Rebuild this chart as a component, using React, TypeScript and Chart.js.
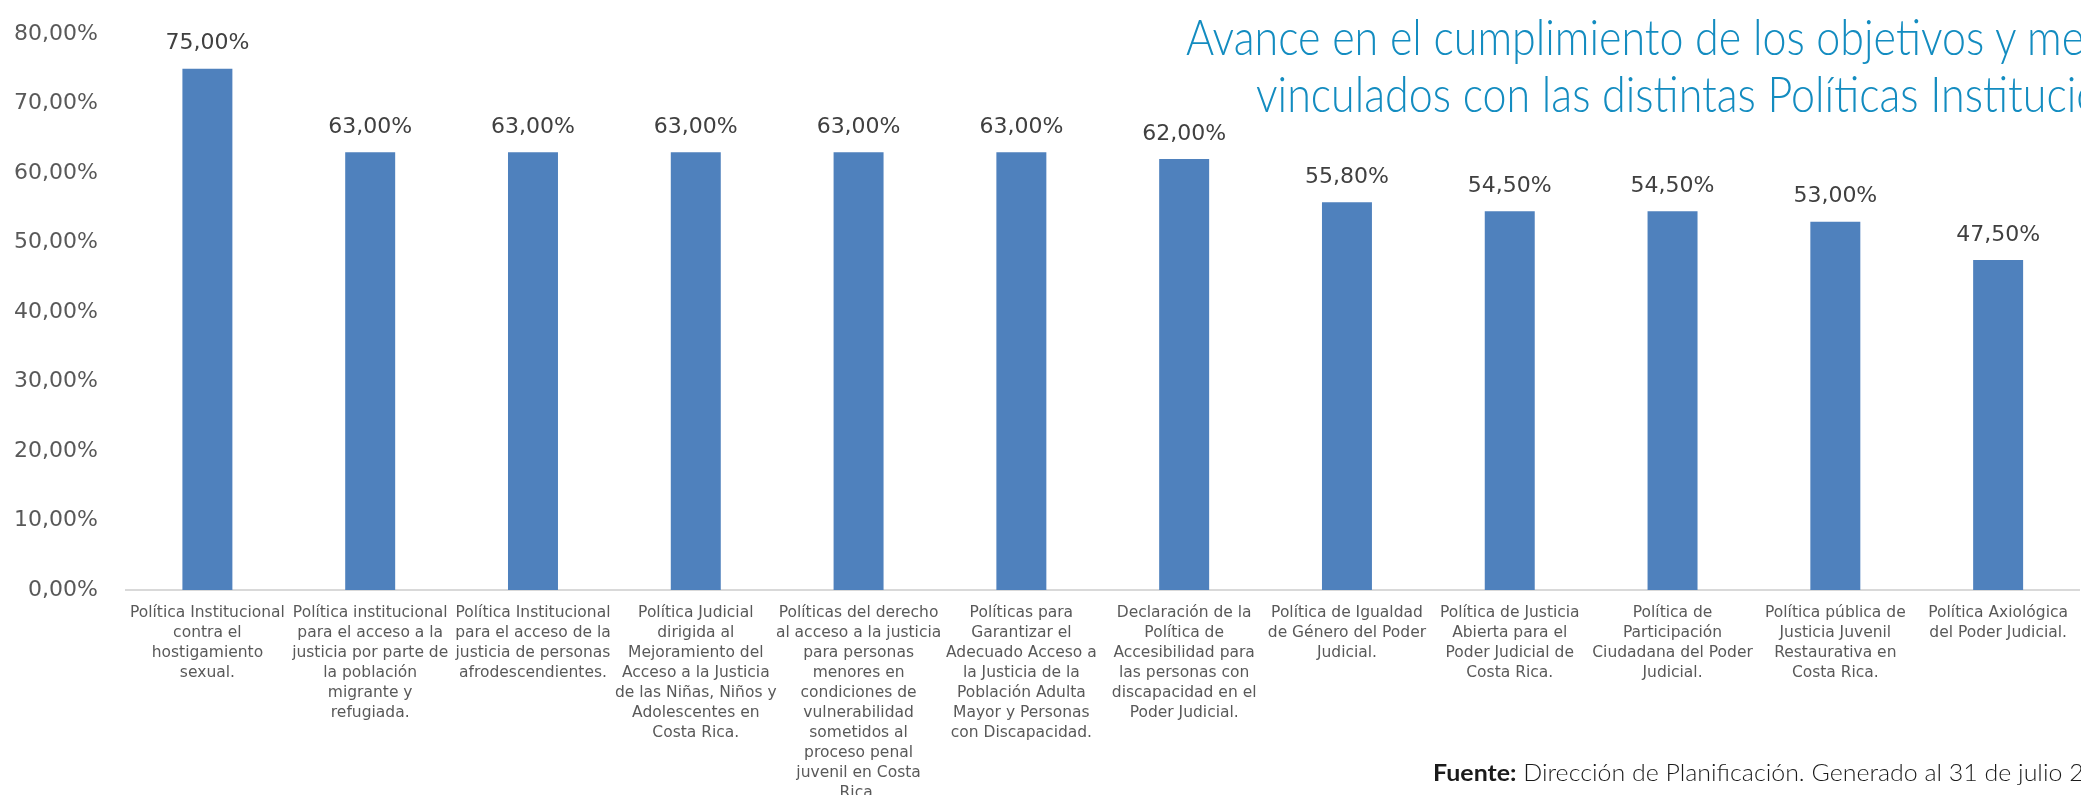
import React, { useEffect, useRef } from "react";
import { Chart, registerables } from "chart.js";

Chart.register(...registerables);

const categories: string[][] = [
  ["Política Institucional", "contra el", "hostigamiento", "sexual."],
  ["Política institucional", "para el acceso a la", "justicia por parte de", "la población", "migrante y", "refugiada."],
  ["Política Institucional", "para el acceso de la", "justicia de personas", "afrodescendientes."],
  ["Política Judicial", "dirigida al", "Mejoramiento del", "Acceso a la Justicia", "de las Niñas, Niños y", "Adolescentes en", "Costa Rica."],
  ["Políticas del derecho", "al acceso a la justicia", "para personas", "menores en", "condiciones de", "vulnerabilidad", "sometidos al", "proceso penal", "juvenil en Costa", "Rica."],
  ["Políticas para", "Garantizar el", "Adecuado Acceso a", "la Justicia de la", "Población Adulta", "Mayor y Personas", "con Discapacidad."],
  ["Declaración de la", "Política de", "Accesibilidad para", "las personas con", "discapacidad en el", "Poder Judicial."],
  ["Política de Igualdad", "de Género del Poder", "Judicial."],
  ["Política de Justicia", "Abierta para el", "Poder Judicial de", "Costa Rica."],
  ["Política de", "Participación", "Ciudadana del Poder", "Judicial."],
  ["Política pública de", "Justicia Juvenil", "Restaurativa en", "Costa Rica."],
  ["Política Axiológica", "del Poder Judicial."],
];

const values: number[] = [75, 63, 63, 63, 63, 63, 62, 55.8, 54.5, 54.5, 53, 47.5];

const yMin = 0;
const yMax = 80;
const yStep = 10;

const titleLine1 = "Avance en el cumplimiento de los objetivos y metas";
const titleLine2 = "vinculados con las distintas Políticas Institucionales";
const sourceBold = "Fuente:";
const sourceRest = " Dirección de Planificación. Generado al 31 de julio 2";

const fmtPct = (v: number) => v.toFixed(2).replace(".", ",") + "%";

const CANVAS_W = 2081;
const CANVAS_H = 830;
const FONT = '"DejaVu Sans", sans-serif';

const dataLabelPlugin = {
  id: "dataLabels",
  afterDatasetsDraw(chart: any) {
    const ctx = chart.ctx;
    const meta = chart.getDatasetMeta(0);
    ctx.save();
    ctx.font = `22px ${FONT}`;
    ctx.fillStyle = "#404040";
    ctx.textAlign = "center";
    ctx.textBaseline = "middle";
    meta.data.forEach((bar: any, i: number) => {
      ctx.fillText(fmtPct(values[i]), bar.x, bar.y - 25);
    });
    ctx.restore();
  },
};

export default function App() {
  const canvasRef = useRef<HTMLCanvasElement | null>(null);

  useEffect(() => {
    if (!canvasRef.current) return;
    const chart = new Chart(canvasRef.current, {
      type: "bar",
      data: {
        labels: categories,
        datasets: [
          {
            data: values,
            backgroundColor: "#4f81bd",
            borderWidth: 0,
            barPercentage: 0.307,
            categoryPercentage: 1,
          },
        ],
      },
      options: {
        responsive: false,
        animation: false,
        devicePixelRatio: 1,
        layout: { padding: { top: 34, left: 0, right: 0, bottom: 0 } },
        plugins: {
          legend: { display: false },
          title: { display: false },
          tooltip: { enabled: false },
        },
        scales: {
          x: {
            grid: { display: false, drawTicks: false },
            border: { display: true, color: "#d9d9d9", width: 2 },
            ticks: {
              autoSkip: false,
              maxRotation: 0,
              minRotation: 0,
              padding: 13,
              color: "#595959",
              font: { family: FONT, size: 15.5, lineHeight: "20px" },
            },
            afterFit: (scale: any) => {
              scale.height = 240;
            },
          },
          y: {
            min: yMin,
            max: yMax,
            grid: { display: false, drawTicks: true, tickLength: 28 },
            border: { display: false },
            ticks: {
              stepSize: yStep,
              padding: 0,
              color: "#595959",
              font: { family: FONT, size: 22 },
              callback: (v: any) => fmtPct(Number(v)),
            },
            afterFit: (scale: any) => {
              scale.width = 126;
            },
          },
        },
      },
      plugins: [dataLabelPlugin],
    });
    return () => chart.destroy();
  }, []);

  const titleStyle: React.CSSProperties = {
    position: "absolute",
    whiteSpace: "nowrap",
    fontFamily: "Lato, sans-serif",
    fontWeight: 300,
    fontSize: 50,
    lineHeight: "56px",
    color: "#138cc0",
    transform: "scaleX(0.86)",
    transformOrigin: "left top",
  };

  return (
    <div
      style={{
        position: "fixed",
        left: 0,
        top: 0,
        width: 2081,
        height: 795,
        overflow: "hidden",
        background: "#ffffff",
      }}
    >
      <canvas
        ref={canvasRef}
        width={CANVAS_W}
        height={CANVAS_H}
        style={{ position: "absolute", left: 0, top: 0, width: CANVAS_W, height: CANVAS_H }}
      />
      <div style={{ ...titleStyle, left: 1186, top: 8 }}>{titleLine1}</div>
      <div style={{ ...titleStyle, left: 1256, top: 65 }}>{titleLine2}</div>
      <div
        style={{
          position: "absolute",
          left: 1433,
          top: 757,
          whiteSpace: "nowrap",
          fontFamily: "Lato, sans-serif",
          fontSize: 23,
          lineHeight: "30px",
          color: "#1a1a1a",
          transform: "scaleX(1.085)",
          transformOrigin: "left top",
        }}
      >
        <span style={{ fontWeight: 700 }}>{sourceBold}</span>
        <span style={{ fontWeight: 300 }}>{sourceRest}</span>
      </div>
    </div>
  );
}
